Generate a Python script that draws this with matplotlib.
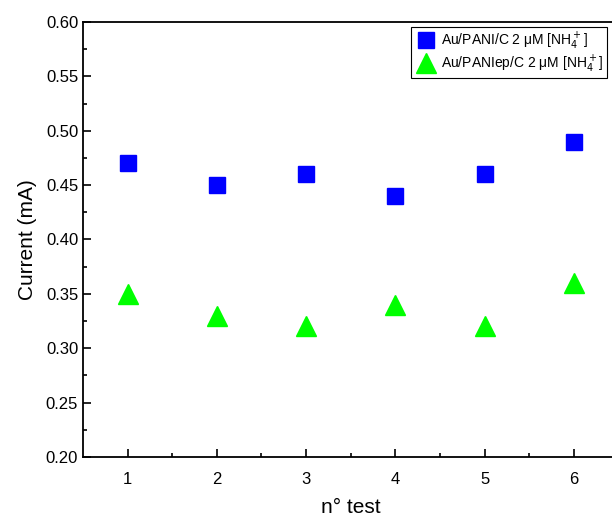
import numpy as np
import matplotlib.pyplot as plt

plt.rcParams['font.family'] = ['Liberation Sans', 'DejaVu Sans']

# data
tests = [1, 2, 3, 4, 5, 6]
pani = [0.47, 0.45, 0.46, 0.44, 0.46, 0.49]
panilep = [0.35, 0.33, 0.32, 0.34, 0.32, 0.36]

fig = plt.figure(figsize=(6.12, 5.18), dpi=100)
ax = fig.add_axes([0.1356, 0.1178, 0.875, 0.8397])

ax.plot(tests, pani, 's', color='#0000ff', markersize=11, linestyle='none',
        label=r'Au/PANI/C 2 μM [NH$_4^+$]')
ax.plot(tests, panilep, '^', color='#00ff00', markersize=14.5, linestyle='none',
        label=r'Au/PANIep/C 2 μM [NH$_4^+$]')

ax.set_xlim(0.5, 6.5)
ax.set_ylim(0.20, 0.60)
ax.set_xticks(tests)
ax.set_xticks(np.arange(1.5, 6.5, 1), minor=True)
ax.set_yticks(np.arange(0.20, 0.601, 0.05))
ax.set_yticks(np.arange(0.225, 0.6, 0.05), minor=True)
ax.yaxis.set_major_formatter(plt.FormatStrFormatter('%.2f'))
ax.tick_params(which='both', direction='in', labelsize=12, width=1.2)
ax.tick_params(which='major', length=6)
ax.tick_params(which='minor', length=3)
ax.tick_params(axis='x', pad=11)
for s in ax.spines.values():
    s.set_linewidth(1.3)

ax.set_xlabel('n° test', fontsize=15, labelpad=8)
ax.set_ylabel('Current (mA)', fontsize=15, labelpad=6)

leg = ax.legend(loc='upper right', bbox_to_anchor=(0.979, 0.989), fontsize=10,
                fancybox=False, edgecolor='black', framealpha=1,
                handletextpad=0.3, borderpad=0.25, labelspacing=0.15,
                handlelength=1.6, borderaxespad=0, markerscale=1.0)
leg.get_frame().set_linewidth(0.8)

fig.savefig('out.png', dpi=100)
